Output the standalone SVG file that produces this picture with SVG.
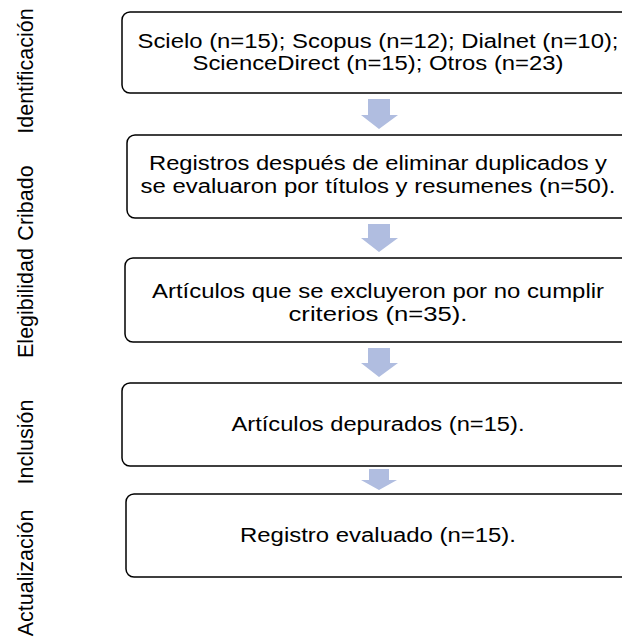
<svg xmlns="http://www.w3.org/2000/svg" width="622" height="638" viewBox="0 0 622 638">
<style>
.box{fill:#fff;stroke:#000;stroke-width:1.5}
.t{font-family:"Liberation Sans",Arial,sans-serif;font-size:20px;fill:#000;text-anchor:middle}
.l{font-family:"Liberation Sans",Arial,sans-serif;font-size:21.5px;fill:#000;text-anchor:middle}
.arr{fill:#b0bde0}
</style>
<rect width="622" height="638" fill="#fff"/>
<g id="labels">
<text class="l" transform="translate(33,71) rotate(-90)">Identificación</text>
<text class="l" transform="translate(33,203) rotate(-90)">Cribado</text>
<text class="l" transform="translate(33,303) rotate(-90)">Elegibilidad</text>
<text class="l" transform="translate(33,442) rotate(-90)">Inclusión</text>
<text class="l" transform="translate(33,573) rotate(-90)">Actualización</text>
</g>
<g id="connectors">
<path class="arr" d="M368,99 H390 V115 H398 L379,129 L361,115 H368 Z"/>
<path class="arr" d="M368,224 H390 V238 H398 L379,252 L361,238 H368 Z"/>
<path class="arr" d="M368,348 H390 V363 H398 L379,377 L361,363 H368 Z"/>
<path class="arr" d="M369,469 H389 V480 H397 L379,490 L361,480 H369 Z"/>
</g>
<g id="n1">
<rect class="box" x="122" y="12" width="520" height="81" rx="8"/>
<text class="t" x="378" y="48" textLength="481" lengthAdjust="spacingAndGlyphs">Scielo (n=15); Scopus (n=12); Dialnet (n=10);</text>
<text class="t" x="378" y="70" textLength="371" lengthAdjust="spacingAndGlyphs">ScienceDirect (n=15); Otros (n=23)</text>
</g>
<g id="n2">
<rect class="box" x="127" y="135" width="520" height="83" rx="8"/>
<text class="t" x="378" y="170" textLength="458" lengthAdjust="spacingAndGlyphs">Registros después de eliminar duplicados y</text>
<text class="t" x="378" y="193" textLength="475" lengthAdjust="spacingAndGlyphs">se evaluaron por títulos y resumenes (n=50).</text>
</g>
<g id="n3">
<rect class="box" x="125" y="258" width="520" height="84" rx="8"/>
<text class="t" x="378" y="298" textLength="452" lengthAdjust="spacingAndGlyphs">Artículos que se excluyeron por no cumplir</text>
<text class="t" x="378" y="321" textLength="179" lengthAdjust="spacingAndGlyphs">criterios (n=35).</text>
</g>
<g id="n4">
<rect class="box" x="122" y="383" width="520" height="83" rx="8"/>
<text class="t" x="378" y="431" textLength="293" lengthAdjust="spacingAndGlyphs">Artículos depurados (n=15).</text>
</g>
<g id="n5">
<rect class="box" x="126" y="494" width="520" height="83" rx="8"/>
<text class="t" x="378" y="542" textLength="276" lengthAdjust="spacingAndGlyphs">Registro evaluado (n=15).</text>
</g>
</svg>
